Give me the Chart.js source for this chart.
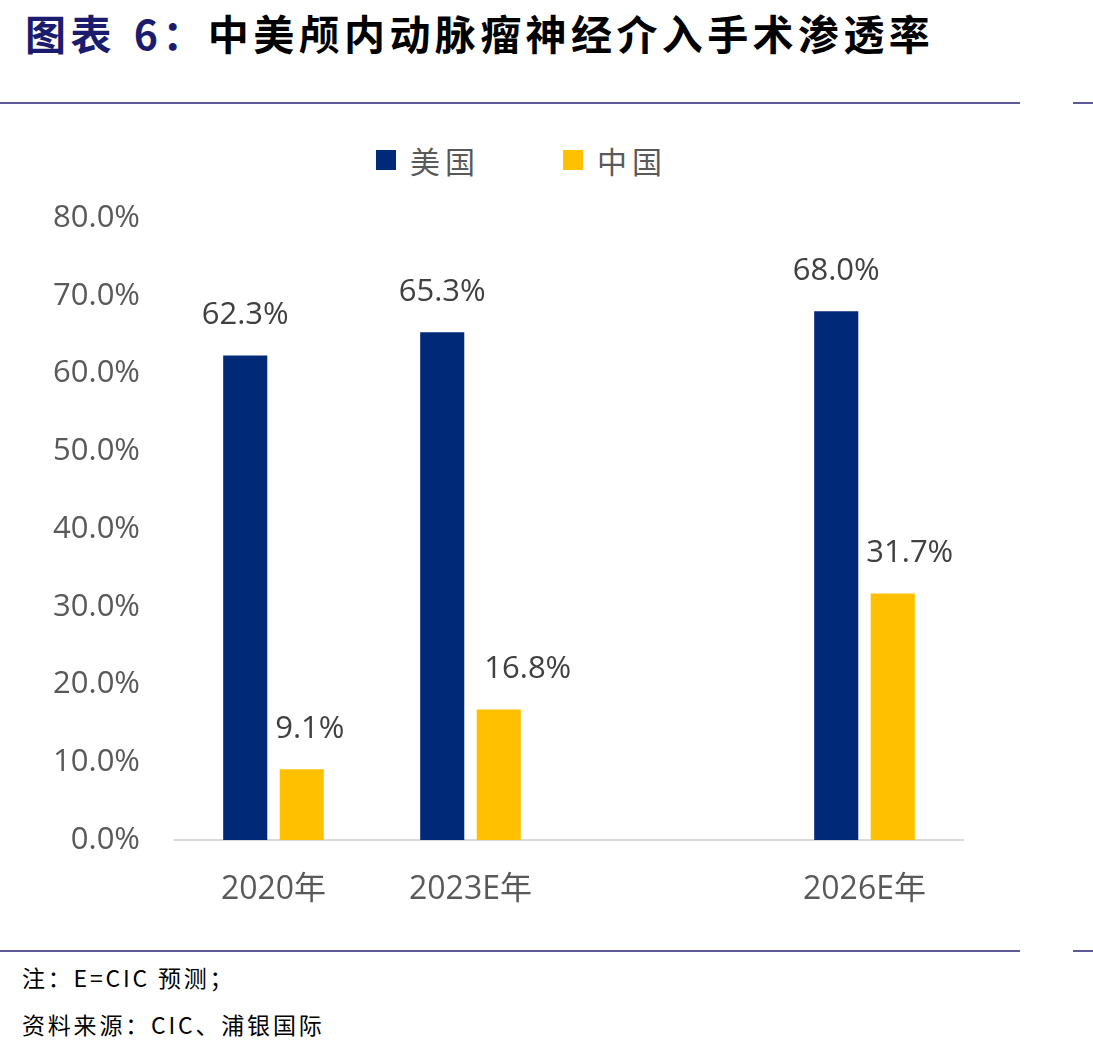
<!DOCTYPE html>
<html>
<head>
<meta charset="utf-8">
<script src="https://cdn.jsdelivr.net/npm/chart.js@4/dist/chart.umd.min.js"></script>
<style>
  body { margin: 0; background: #fff; width: 1093px; height: 1054px; position: relative; overflow: hidden; font-family: "Noto Sans CJK SC", sans-serif; }
  .title { position: absolute; left: 25px; top: 12px; font-size: 41px; line-height: 1; font-weight: bold; letter-spacing: 4.4px; color: #000; white-space: nowrap; }
  .title .lead { color: #1c1c6e; }
  .title .num { margin-left: 18px; }
  .rule { position: absolute; height: 2px; background: #5b5b9b; }
  .legend { position: absolute; top: 138px; left: 376px; font-size: 30px; color: #595959; letter-spacing: 5px; }
  .legend span.item { position: absolute; white-space: nowrap; display: flex; align-items: center; }
  .legend i { display: inline-block; width: 20px; height: 20px; margin-right: 14px; }
  .note { position: absolute; left: 22px; font-size: 23px; line-height: 1; letter-spacing: 2.8px; color: #000; white-space: nowrap; }
  #wrap { position: absolute; left: 0; top: 120px; width: 1038px; height: 810px; }
</style>
</head>
<body>
<div class="title"><span class="lead">图表<span class="num">6：</span></span>中美颅内动脉瘤神经介入手术渗透率</div>
<div class="rule" style="left:0;top:102px;width:1020px"></div>
<div class="rule" style="left:1073px;top:102px;width:20px"></div>

<div class="legend" id="legend"></div>

<div id="wrap"><canvas id="myChart"></canvas></div>

<div class="rule" style="left:0;top:950px;width:1020px"></div>
<div class="rule" style="left:1073px;top:950px;width:20px"></div>
<div class="note" style="top:966px">注：E=CIC 预测；</div>
<div class="note" style="top:1013px">资料来源：CIC、浦银国际</div>

<script>
// categories (the empty one leaves the gap before 2026E)
var years = ['2020年', '2023E年', '', '2026E年'];
var seriesNames = ['美国', '中国'];
var usRate = [62.3, 65.3, null, 68.0];
var cnRate = [9.1, 16.8, null, 31.7];
var yTicks = [0, 10, 20, 30, 40, 50, 60, 70, 80];

var colors = ['#002A78', '#FFC000'];

// legend drawn as html
var legend = document.getElementById('legend');
var legendLeft = [0, 187];
seriesNames.forEach(function(name, i) {
  var s = document.createElement('span');
  s.className = 'item';
  s.style.left = legendLeft[i] + 'px';
  s.innerHTML = '<i style="background:' + colors[i] + '"></i>' + name;
  legend.appendChild(s);
});

// china labels were nudged right in the original
var labelShift = [[0, 0, 0, 0], [8, 29, 0, 17]];

var valueLabels = {
  id: 'valueLabels',
  afterDatasetsDraw: function(chart) {
    var ctx = chart.ctx;
    ctx.save();
    ctx.font = '31px "Open Sans"';
    ctx.fillStyle = '#404040';
    ctx.textAlign = 'center';
    ctx.textBaseline = 'middle';
    chart.data.datasets.forEach(function(ds, di) {
      var meta = chart.getDatasetMeta(di);
      meta.data.forEach(function(bar, i) {
        var v = ds.data[i];
        if (v == null) return;
        ctx.fillText(v.toFixed(1) + '%', bar.x + labelShift[di][i], bar.y - 40);
      });
    });
    ctx.restore();
  }
};

var ctx = document.getElementById('myChart');
var myChart = new Chart(ctx, {
  type: 'bar',
  data: {
    labels: years,
    datasets: [
      { label: seriesNames[0], data: usRate, backgroundColor: colors[0] },
      { label: seriesNames[1], data: cnRate, backgroundColor: colors[1] }
    ]
  },
  options: {
    responsive: true,
    maintainAspectRatio: false,
    animation: false,
    categoryPercentage: 0.574,
    barPercentage: 0.78,
    layout: { padding: { top: 98, right: 75, bottom: 0, left: 0 } },
    plugins: { legend: { display: false }, tooltip: { enabled: false } },
    scales: {
      x: {
        grid: { display: false, drawTicks: false },
        border: { color: '#D9D9D9', width: 2 },
        ticks: { color: '#595959', font: { family: '"Open Sans", "Noto Sans CJK SC"', size: 32 }, padding: 31 },
        afterFit: function(s) { s.height = 90; }
      },
      y: {
        min: 0,
        max: 80,
        grid: { display: false, drawTicks: false },
        border: { display: false },
        afterBuildTicks: function(s) { s.ticks = yTicks.map(function(v) { return { value: v }; }); },
        ticks: {
          color: '#595959',
          font: { family: '"Open Sans"', size: 31 },
          padding: 35,
          callback: function(v) { return v.toFixed(1) + '%'; }
        },
        afterFit: function(s) { s.width = 175; }
      }
    }
  },
  plugins: [valueLabels]
});
</script>
</body>
</html>
